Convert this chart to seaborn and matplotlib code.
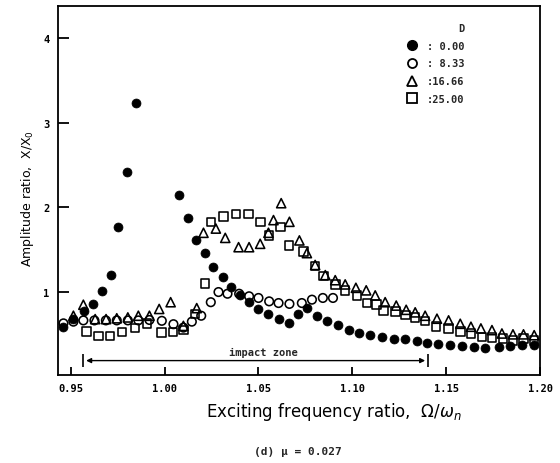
import numpy as np
import pandas as pd
import matplotlib
matplotlib.use("Agg")
import matplotlib.pyplot as plt
import seaborn as sns
from matplotlib.lines import Line2D

# ---------------- data ----------------
x_d0 = [0.9461, 0.9514, 0.9572, 0.9617, 0.9665, 0.9715, 0.9754, 0.9802, 0.9847,
        1.0074, 1.0122, 1.0168, 1.0216, 1.0260, 1.0310, 1.0354, 1.0399, 1.0450,
        1.0500, 1.0553, 1.0607, 1.0665, 1.0713, 1.0758, 1.0811, 1.0864, 1.0926,
        1.0980, 1.1037, 1.1092, 1.1158, 1.1220, 1.1282, 1.1344, 1.1398, 1.1459,
        1.1522, 1.1584, 1.1646, 1.1708, 1.1779, 1.1842, 1.1904, 1.1966]
y_d0 = [0.59, 0.685, 0.78, 0.86, 1.01, 1.20, 1.77, 2.42, 3.23,
        2.15, 1.87, 1.62, 1.46, 1.30, 1.18, 1.06, 0.96, 0.88,
        0.80, 0.74, 0.68, 0.63, 0.74, 0.81, 0.72, 0.66, 0.61,
        0.555, 0.52, 0.49, 0.47, 0.45, 0.44, 0.42, 0.40, 0.386,
        0.37, 0.36, 0.35, 0.34, 0.35, 0.36, 0.37, 0.376]

x_d8 = [0.9461, 0.9514, 0.9567, 0.9626, 0.9687, 0.9745, 0.9804, 0.9860, 0.9919,
        0.9985, 1.0047, 1.0100, 1.0145, 1.0195, 1.0246, 1.0287, 1.0335, 1.0397,
        1.0450, 1.0500, 1.0557, 1.0607, 1.0665, 1.0731, 1.0785, 1.0843, 1.0897]
y_d8 = [0.63, 0.65, 0.665, 0.665, 0.665, 0.665, 0.665, 0.665, 0.67,
        0.66, 0.62, 0.58, 0.65, 0.72, 0.88, 1.00, 0.98, 0.98,
        0.95, 0.93, 0.89, 0.87, 0.86, 0.87, 0.91, 0.93, 0.93]

x_d16 = [0.9514, 0.9567, 0.9630, 0.9688, 0.9745, 0.9804, 0.9860, 0.9919, 0.9971,
         1.0032, 1.0100, 1.0171, 1.0207, 1.0273, 1.0323, 1.0394, 1.0450, 1.0509,
         1.0553, 1.0580, 1.0621, 1.0665, 1.0718, 1.0758, 1.0802, 1.0856, 1.0909,
         1.0962, 1.1019, 1.1074, 1.1122, 1.1175, 1.1234, 1.1287, 1.1335, 1.1388,
         1.1451, 1.1513, 1.1575, 1.1632, 1.1685, 1.1744, 1.1797, 1.1856, 1.1912,
         1.1969]
y_d16 = [0.72, 0.85, 0.68, 0.68, 0.69, 0.70, 0.72, 0.72, 0.80,
         0.88, 0.60, 0.81, 1.70, 1.75, 1.64, 1.53, 1.53, 1.57,
         1.70, 1.85, 2.05, 1.83, 1.61, 1.46, 1.32, 1.20, 1.14,
         1.09, 1.05, 1.02, 0.96, 0.88, 0.84, 0.79, 0.76, 0.72,
         0.685, 0.665, 0.625, 0.59, 0.57, 0.55, 0.51, 0.50, 0.50,
         0.49]

x_d25 = [0.9585, 0.9647, 0.9710, 0.9772, 0.9843, 0.9905, 0.9984, 1.0044, 1.0100,
         1.0163, 1.0216, 1.0246, 1.0313, 1.0380, 1.0447, 1.0511, 1.0556, 1.0616,
         1.0662, 1.0740, 1.0801, 1.0847, 1.0909, 1.0962, 1.1025, 1.1078, 1.1128,
         1.1167, 1.1229, 1.1282, 1.1335, 1.1388, 1.1447, 1.1513, 1.1575, 1.1632,
         1.1691, 1.1744, 1.1803, 1.1856, 1.1912, 1.1969]
y_d25 = [0.535, 0.48, 0.48, 0.53, 0.575, 0.625, 0.52, 0.53, 0.55,
         0.74, 1.10, 1.83, 1.89, 1.92, 1.92, 1.83, 1.67, 1.77,
         1.55, 1.48, 1.31, 1.19, 1.09, 1.02, 0.96, 0.87, 0.85,
         0.78, 0.77, 0.73, 0.70, 0.66, 0.59, 0.57, 0.535, 0.51,
         0.47, 0.46, 0.45, 0.43, 0.45, 0.43]

legend_labels = [": 0.00", ": 8.33", ":16.66", ":25.00"]
x_ticks = [0.95, 1.00, 1.05, 1.10, 1.15, 1.20]
x_tick_labels = ["0.95", "1.00", "1.05", "1.10", "1.15", "1.20"]
y_ticks = [1, 2, 3, 4]
y_tick_labels = ["1", "2", "3", "4"]
impact_start, impact_end, impact_level = 0.9567, 1.1403, 0.19

# ---------------- figure ----------------
sns.set_theme(style="white")
plt.rcParams["font.family"] = ["DejaVu Sans"]

fig = plt.figure(figsize=(5.6, 4.64), dpi=100)
ax = fig.add_axes([0.1036, 0.1897, 0.8607, 0.7952])

ms = 38
lw = 1.15
sns.scatterplot(x=x_d25, y=y_d25, marker="s", s=ms, facecolors="none",
                edgecolor="black", linewidth=lw, ax=ax, label=legend_labels[3], zorder=3)
sns.scatterplot(x=x_d16, y=y_d16, marker="^", s=ms * 1.15, facecolors="none",
                edgecolor="black", linewidth=lw, ax=ax, label=legend_labels[2], zorder=3)
sns.scatterplot(x=x_d8, y=y_d8, marker="o", s=ms, facecolors="none",
                edgecolor="black", linewidth=lw, ax=ax, label=legend_labels[1], zorder=3)
sns.scatterplot(x=x_d0, y=y_d0, marker="o", s=ms * 1.1, color="black",
                edgecolor="black", linewidth=0.5, ax=ax, label=legend_labels[0], zorder=4)

ax.set_xlim(0.9432, 1.2)
ax.set_ylim(0.02, 4.38)

mono = dict(family="DejaVu Sans Mono", weight="bold", size=7.5)
ax.set_xticks(x_ticks)
ax.set_xticklabels(x_tick_labels, fontdict=mono)
ax.set_yticks(y_ticks)
ax.set_yticklabels(y_tick_labels, fontdict=mono)
ax.tick_params(axis="x", direction="in", length=6, width=1.3, pad=6, colors="black")
ax.tick_params(axis="y", direction="in", length=8, width=1.3, pad=6, colors="black")
ax.tick_params(bottom=True, left=True, top=False, right=False)
for sp in ax.spines.values():
    sp.set_visible(True)
    sp.set_color("black")
    sp.set_linewidth(1.3)

ax.set_xlabel(r"Exciting frequency ratio,  $\Omega/\omega_n$", fontsize=12, color="black")
ax.xaxis.set_label_coords(0.573, -0.098)
ax.xaxis.label.set_va("center")
ax.set_ylabel(r"Amplitude ratio,  X/X$_0$", fontsize=9, color="black")
ax.yaxis.set_label_coords(-0.064, 0.482)
ax.yaxis.label.set_va("center")

# impact zone
ax.annotate("", xy=(impact_start, impact_level), xytext=(impact_end, impact_level),
            arrowprops=dict(arrowstyle="<|-|>", color="black", lw=1.0,
                            mutation_scale=7, shrinkA=2, shrinkB=2))
ax.vlines([impact_start, impact_end], impact_level - 0.08, impact_level + 0.08,
          color="black", lw=1.2)
ax.text((impact_start + impact_end) / 2 + 0.004, impact_level + 0.1, "impact zone",
        ha="center", va="center", family="DejaVu Sans Mono", weight="bold", size=7.5)

# legend
handles = [
    Line2D([], [], ls="none", marker="o", ms=7, mfc="black", mec="black"),
    Line2D([], [], ls="none", marker="o", ms=6.5, mfc="none", mec="black", mew=1.3),
    Line2D([], [], ls="none", marker="^", ms=7, mfc="none", mec="black", mew=1.3),
    Line2D([], [], ls="none", marker="s", ms=7, mfc="none", mec="black", mew=1.3),
]
leg = ax.legend(handles, legend_labels, title="D", loc="upper left",
                bbox_to_anchor=(0.705, 0.98), frameon=False,
                prop=dict(family="DejaVu Sans Mono", weight="bold", size=7.5),
                handletextpad=0.9, labelspacing=0.75, handlelength=1.0,
                alignment="right")
leg.get_title().set_fontfamily("DejaVu Sans Mono")
leg.get_title().set_fontweight("bold")
leg.get_title().set_fontsize(7.5)

fig.text(0.532, 0.0265, "(d) μ = 0.027", ha="center", va="center",
         family="DejaVu Sans Mono", weight="bold", size=8)

fig.savefig("out.png", dpi=100, facecolor="white")
